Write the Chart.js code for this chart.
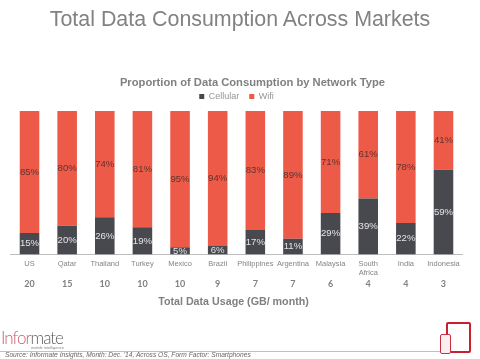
<!DOCTYPE html>
<html>
<head>
<meta charset="utf-8">
<style>
html, body { margin: 0; padding: 0; background: #fff; }
#wrap { position: relative; width: 480px; height: 359px; overflow: hidden; font-family: "Liberation Sans", sans-serif; }
#chart { position: absolute; left: 0; top: 0; }
.abs { position: absolute; white-space: nowrap; }
#heading { left: 0; width: 480px; top: 7px; text-align: center; font-size: 21.4px; color: #828282; }
#logo { left: 1px; top: 327px; font-family: Lato, sans-serif; font-weight: 300; font-size: 17px; letter-spacing: -1px; color: #c9606f; }
#logo span { color: #5c5d61; }
#tag { left: 31px; top: 345px; font-size: 4px; color: #888; }
#rule { left: 0; top: 351px; width: 440px; height: 1px; background: #dcb6b6; }
#source { left: 5px; top: 351px; font-size: 6.65px; font-style: italic; color: #666; }
#tablet { left: 446px; top: 322px; width: 21px; height: 27px; border: 2px solid #c8202f; border-radius: 2px; }
#phone { left: 440px; top: 334px; width: 9px; height: 18px; border: 1.5px solid #c8303f; border-radius: 2px; background: #fbeef0; }
</style>
</head>
<body>
<div id="wrap">
  <canvas id="chart" width="480" height="359"></canvas>
  <div class="abs" id="heading">Total Data Consumption Across Markets</div>
  <div class="abs" id="logo">Infor<span>mate</span></div>
  <div class="abs" id="tag">mobile intelligence</div>
  <div class="abs" id="rule"></div>
  <div class="abs" id="source">Source: Informate Insights, Month: Dec. '14, Across OS, Form Factor: Smartphones</div>
  <div class="abs" id="tablet"></div>
  <div class="abs" id="phone"></div>
</div>
<script src="https://cdn.jsdelivr.net/npm/chart.js@4"></script>
<script>
const markets = ['US', 'Qatar', 'Thailand', 'Turkey', 'Mexico', 'Brazil', 'Philippines', 'Argentina', 'Malaysia', ['South', 'Africa'], 'India', 'Indonesia'];
const cellular = [15, 20, 26, 19, 5, 6, 17, 11, 29, 39, 22, 59];
const wifi = [85, 80, 74, 81, 95, 94, 83, 89, 71, 61, 78, 41];
const usage = [20, 15, 10, 10, 10, 9, 7, 7, 6, 4, 4, 3];

// percent labels inside the bars, usage row and the two captions
const extras = {
    id: 'extras',
    afterDatasetsDraw(chart) {
        const c = chart.ctx;
        const x = chart.scales.x;
        c.save();
        c.textAlign = 'center';
        c.textBaseline = 'middle';
        c.font = '9.6px "Liberation Sans"';
        chart.data.datasets.forEach(function(ds, i) {
            c.fillStyle = i === 0 ? '#e4e4e6' : '#5c3430';
            chart.getDatasetMeta(i).data.forEach(function(bar, j) {
                c.fillText(ds.data[j] + '%', bar.x, (bar.y + bar.base) / 2);
            });
        });
        c.fillStyle = '#808080';
        c.font = 'bold 9px Lato';
        usage.forEach(function(u, j) {
            c.fillText(u, x.getPixelForValue(j), 284);
        });
        c.font = 'bold 10.7px "Liberation Sans"';
        c.fillText('Total Data Usage (GB/ month)', 233.5, 302);
        c.font = 'bold 11.2px "Liberation Sans"';
        c.fillText('Proportion of Data Consumption by Network Type', 252.5, 83);
        c.restore();
    }
};

new Chart(document.getElementById('chart').getContext('2d'), {
    type: 'bar',
    data: {
        labels: markets,
        datasets: [
            { label: 'Cellular', data: cellular, backgroundColor: '#48494f', barPercentage: 0.52, categoryPercentage: 1 },
            { label: 'Wifi', data: wifi, backgroundColor: '#ee5a48', barPercentage: 0.52, categoryPercentage: 1 }
        ]
    },
    options: {
        responsive: false,
        animation: false,
        layout: { padding: { left: 10.7, right: 17.7, top: 82, bottom: 0 } },
        scales: {
            x: {
                stacked: true,
                grid: { display: false, drawTicks: false },
                border: { color: '#bdbdbd' },
                ticks: { color: '#858585', font: { size: 7.5, family: '"Liberation Sans"' }, maxRotation: 0, autoSkip: false, padding: 5 },
                afterFit(scale) { scale.height = 104.5; }
            },
            y: { stacked: true, min: 0, max: 100, display: false }
        },
        plugins: {
            legend: {
                display: true,
                position: 'top',
                labels: { color: '#969696', font: { size: 9, family: '"Liberation Sans"' }, boxWidth: 5, boxHeight: 5, padding: 10 }
            },
            tooltip: { enabled: false }
        }
    },
    plugins: [extras]
});
</script>
</body>
</html>
